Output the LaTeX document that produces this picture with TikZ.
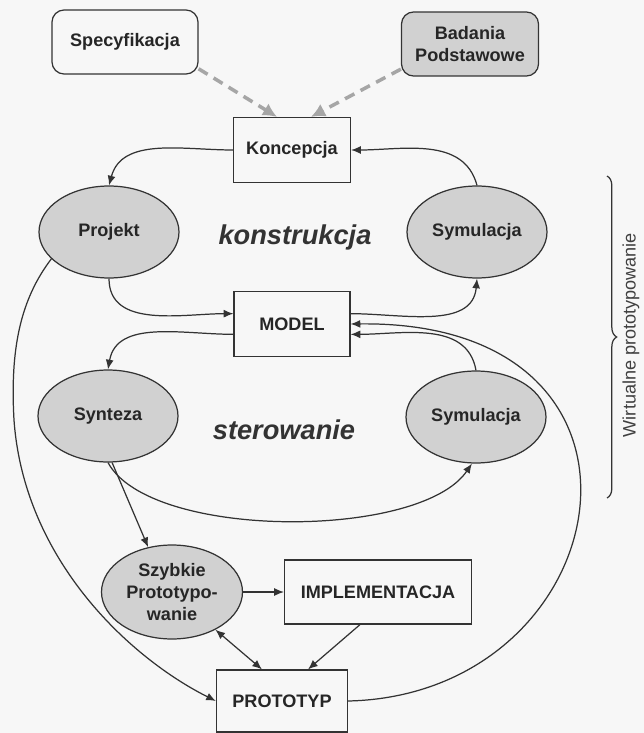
\documentclass[tikz,border=0pt]{standalone}
\usepackage{fontspec}
\setmainfont{Liberation Sans}
\usetikzlibrary{arrows.meta, positioning, calc, shapes.geometric, decorations.pathreplacing}

\begin{document}
\begin{tikzpicture}[x=0.02cm, y=-0.02cm, >={Latex[length=5.5pt,width=4.5pt]},
  lbl/.style={font=\fontsize{10.3}{12.4}\selectfont\bfseries, text=black!85, align=center},
  box/.style={lbl, draw=black!80, line width=0.7pt, fill=black!3, rectangle, inner sep=0pt},
  rbox/.style={box, rounded corners=0.24cm},
  oval/.style={lbl, draw=black!80, line width=0.7pt, fill=black!18, ellipse, inner sep=0pt, minimum width=2.8cm, minimum height=1.84cm},
  flow/.style={->, draw=black!80, line width=0.7pt},
  feed/.style={->, draw=black!35, line width=2pt, dash pattern=on 6pt off 4pt, >={Latex[length=8pt,width=8pt]}},
  area/.style={font=\fontsize{15.5}{18}\selectfont\bfseries\itshape, text=black!80}]
\fill[black!3] (0,0) rectangle (644,733);
\useasboundingbox (0,0) rectangle (644,733);
% sources of the concept
\node[rbox, minimum width=2.92cm, minimum height=1.28cm] (spec) at (125,42) {Specyfikacja};
\node[rbox, fill=black!18, minimum width=2.74cm, minimum height=1.28cm] (badania) at (470,44) {Badania\\Podstawowe};
\node[box, minimum width=2.34cm, minimum height=1.3cm] (konc) at (292,150) {Koncepcja};
% konstrukcja loop
\node[oval] (projekt) at (109,232) {Projekt};
\node[oval] (symk) at (477,232) {Symulacja};
\node[area] (konstr) at (295,237) {konstrukcja};
\node[box, minimum width=2.32cm, minimum height=1.3cm] (model) at (292,324) {MODEL};
% sterowanie loop
\node[oval] (synteza) at (108,416) {Synteza};
\node[oval] (syms) at (476,417) {Symulacja};
\node[area] (sterow) at (284,430) {sterowanie};
% realisation
\node[oval, minimum width=2.82cm, minimum height=1.88cm] (szybkie) at (172,592) {Szybkie\\Prototypo-\\wanie};
\node[box, minimum width=3.74cm, minimum height=1.28cm] (impl) at (378,592) {IMPLEMENTACJA};
\node[box, minimum width=2.62cm, minimum height=1.24cm] (proto) at (282,701) {PROTOTYP};

\draw[feed] (spec.-20) -- ([xshift=-0.3cm]konc.north);
\draw[feed] (badania.-160) -- ([xshift=0.38cm]konc.north);
\draw[flow] (konc.west) to[out=180, in=75] (projekt.north);
\draw[flow] (symk.north) to[out=105, in=0] (konc.east);
\draw[flow] (projekt.south) to[out=-90, in=180] (model.170);
\draw[flow] (model.10) to[out=0, in=-95] (symk.south);
\draw[flow] (model.190) to[out=180, in=80] (synteza.north);
\draw[flow] (syms.north) to[out=100, in=0] (model.-10);
\draw[flow] (synteza.south) .. controls (150,540) and (420,540) .. (syms.-95);
\draw[flow] (synteza.-85) -- (szybkie.118);
\draw[flow] (szybkie.east) -- (impl.west);
\draw[flow] ([xshift=-0.36cm]impl.south) -- ([xshift=0.52cm]proto.north);
\draw[flow, <->] (szybkie.-41) -- ([xshift=-0.4cm]proto.north);
% the two long returns
\draw[flow] (projekt.-155) .. controls (20,300) and (10,350) .. (14,420) .. controls (24,560) and (130,658) .. (proto.west);
\draw[flow] (proto.east) .. controls (620,695) and (690,320) .. (model.east);
% virtual part
\coordinate (btop) at (607,176);
\coordinate (bbot) at (607,498);
\draw[black!80, line width=0.7pt, decorate, decoration={brace, amplitude=5.5pt}] (btop) -- (bbot);
\node[rotate=90, font=\fontsize{10.3}{12}\selectfont, text=black!75] (wirt) at (631,335) {Wirtualne prototypowanie};
\end{tikzpicture}
\end{document}
